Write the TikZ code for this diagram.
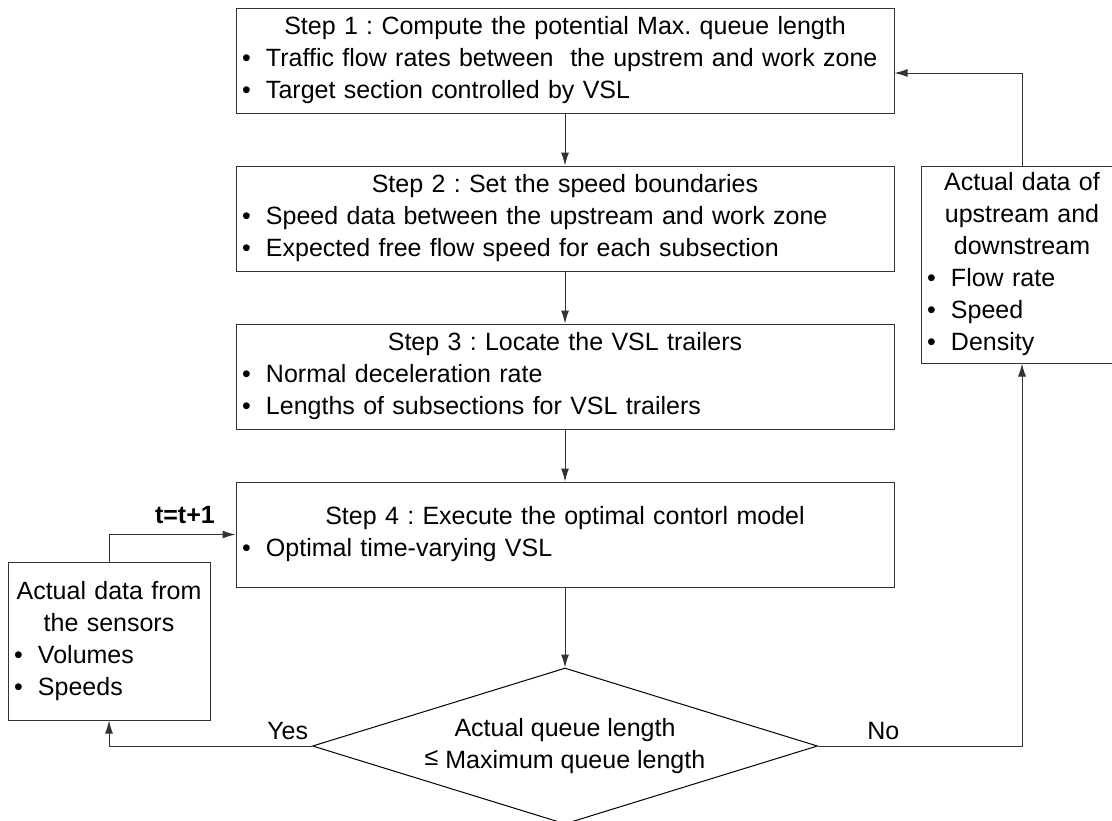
\documentclass[tikz,border=0pt]{standalone}
\usepackage{fontspec}
\setmainfont{Liberation Sans}
\usetikzlibrary{positioning,arrows.meta,shapes.geometric}
\frenchspacing

\newcommand{\ttl}[1]{\makebox[\hsize][c]{#1}}
\newcommand{\itm}[1]{\makebox[12pt][l]{\textbullet}#1}

\begin{document}
\begin{tikzpicture}[
        x=0.5pt, y=-0.5pt,
        font=\fontsize{12.5pt}{16pt}\selectfont,
        stepbox/.style={draw=black!80, line width=0.5pt, text width=323pt, inner xsep=3pt,
                        inner ysep=2pt, minimum height=52.5pt, align=left},
        sidebox/.style={draw=black!80, line width=0.5pt, text width=95pt, inner xsep=3pt,
                        inner ysep=2pt, align=left},
        decide/.style={draw, diamond, line width=0.5pt, aspect=3.24, minimum width=252.5pt,
                       minimum height=78pt, inner sep=0pt, align=center},
        flow/.style={-{Latex[length=6.5pt, width=4pt]}, draw=black!80, line width=0.5pt},
    ]
        \useasboundingbox (0,0) rectangle (1112,820);

        \node[stepbox] (s1) at (565,60.5) {\ttl{Step 1 : Compute the potential Max. queue length}\\
            \itm{Traffic flow rates between~ the upstrem and work zone}\\
            \itm{Target section controlled by VSL}};
        \node[stepbox, below=26pt of s1] (s2) {\ttl{Step 2 : Set the speed boundaries}\\
            \itm{Speed data between the upstream and work zone}\\
            \itm{Expected free flow speed for each subsection}};
        \node[stepbox, below=26pt of s2] (s3) {\ttl{Step 3 : Locate the VSL trailers}\\
            \itm{Normal deceleration rate}\\
            \itm{Lengths of subsections for VSL trailers}};
        \node[stepbox, below=26pt of s3] (s4) {\ttl{Step 4 : Execute the optimal contorl model}\\
            \itm{Optimal time-varying VSL}};
        \node[decide, below=40pt of s4] (dia) {Actual queue length\\
            \raisebox{1.5pt}{≤} Maximum queue length};

        \node[sidebox, minimum height=98.5pt, below right=0pt and 13pt of s2.north east] (rbox)
            {\ttl{Actual data of}\\ \ttl{upstream and}\\ \ttl{downstream}\\
             \itm{Flow rate}\\ \itm{Speed}\\ \itm{Density}};
        \node[sidebox, minimum height=79pt, below left=40pt and 12.5pt of s4.north west] (lbox)
            {\ttl{Actual data from}\\ \ttl{the sensors}\\ \itm{Volumes}\\ \itm{Speeds}};

        \draw[flow] (s1) -- (s2);
        \draw[flow] (s2) -- (s3);
        \draw[flow] (s3) -- (s4);
        \draw[flow] (s4) -- (dia);
        \draw[flow] (dia.west) -| node[pos=0.06, above, inner sep=3pt] {Yes} (lbox.south);
        \draw[flow] (lbox.north) |- node[pos=0.8, above, inner sep=5pt] {\bfseries t=t+1} (s4.west);
        \draw[flow] (dia.east) -| node[pos=0.16, above, inner sep=3pt] {No} (rbox.south);
        \draw[flow] (rbox.north) |- ([yshift=-6.25pt]s1.east);
    \end{tikzpicture}
\end{document}
